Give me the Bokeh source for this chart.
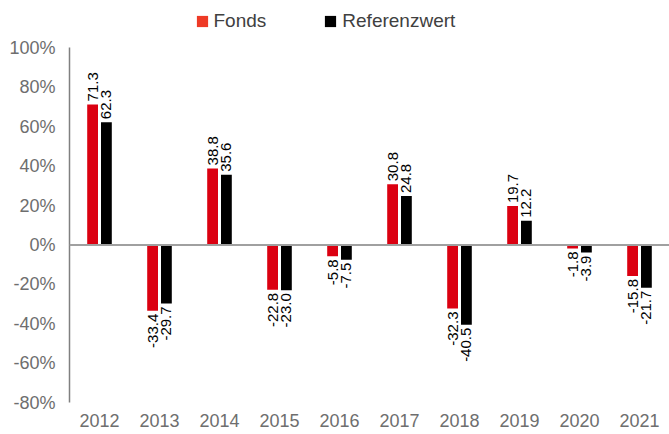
from bokeh.plotting import figure
from bokeh.models import (ColumnDataSource, FactorRange, Range1d, FixedTicker,
                          CustomJSTickFormatter, Span, Legend, LegendItem)
from bokeh.transform import dodge
from bokeh.core.properties import value
from bokeh.embed import file_html
from bokeh.resources import INLINE

years = ["2012", "2013", "2014", "2015", "2016", "2017", "2018", "2019", "2020", "2021"]
fonds = [71.3, -33.4, 38.8, -22.8, -5.8, 30.8, -32.3, 19.7, -1.8, -15.8]
referenz = [62.3, -29.7, 35.6, -23.0, -7.5, 24.8, -40.5, 12.2, -3.9, -21.7]
y_ticks = [-80, -60, -40, -20, 0, 20, 40, 60, 80, 100]

RED = "#DB0011"
BLACK = "#000000"
FONT = "Liberation Sans"

def sub(vals, positive):
    keep = [(y, v) for y, v in zip(years, vals) if (v >= 0) == positive]
    return ColumnDataSource(dict(years=[k[0] for k in keep],
                                 val=[k[1] for k in keep],
                                 lbl=["%.1f" % k[1] for k in keep]))

src = ColumnDataSource(dict(years=years, fonds=fonds, referenz=referenz))

# extra headroom above 100% holds the legend
p = figure(width=669, height=434, output_backend="svg", toolbar_location=None,
           x_range=FactorRange(factors=years, range_padding=0),
           y_range=Range1d(-80, 120),
           min_border_left=69, min_border_right=0, min_border_top=8,
           min_border_bottom=32)
p.outline_line_color = None
p.xgrid.grid_line_color = None
p.ygrid.grid_line_color = None

off = 0.115
w = 0.18
p.vbar(x=dodge("years", -off, range=p.x_range), top="fonds", bottom=0,
       width=w, source=src, fill_color=RED, line_color=None)
p.vbar(x=dodge("years", off, range=p.x_range), top="referenz", bottom=0,
       width=w, source=src, fill_color=BLACK, line_color=None)

p.add_layout(Span(location=0, dimension="width", line_color="#A0A0A0", line_width=2))

def labels(source, dx, align, yoff):
    p.text(x=dodge("years", dx, range=p.x_range), y="val", text="lbl",
           source=source, angle=1.5708, text_font=value(FONT),
           text_font_size="15px", text_color="#000000",
           text_baseline="middle", text_align=align, y_offset=yoff)

labels(sub(fonds, True), -off, "left", -3)
labels(sub(fonds, False), -off, "right", 3)
labels(sub(referenz, True), off, "left", -3)
labels(sub(referenz, False), off, "right", 3)

# y axis
ya = p.yaxis[0]
ya.ticker = FixedTicker(ticks=y_ticks)
ya.bounds = (y_ticks[0], y_ticks[-1])
ya.formatter = CustomJSTickFormatter(code="return tick.toFixed(0) + '%';")
ya.axis_line_color = "#808080"
ya.axis_line_width = 1.5
ya.major_tick_line_color = None
ya.minor_tick_line_color = None
ya.major_tick_out = 0
ya.major_tick_in = 0
ya.major_label_standoff = 14
ya.major_label_text_font = FONT
ya.major_label_text_font_size = "18px"
ya.major_label_text_color = "#6E6E6E"

# x axis
xa = p.xaxis[0]
xa.axis_line_color = None
xa.major_tick_line_color = None
xa.minor_tick_line_color = None
xa.major_tick_out = 0
xa.major_tick_in = 0
xa.major_label_standoff = 11
xa.major_label_text_font = FONT
xa.major_label_text_font_size = "18px"
xa.major_label_text_color = "#6E6E6E"

# legend-only renderers: zero-height boxes that draw nothing on the chart
d1 = p.vbar(x=[years[0]], top=[0], bottom=[0], width=0.1,
            fill_color="#EE3A26", line_color=None)
d2 = p.vbar(x=[years[0]], top=[0], bottom=[0], width=0.1,
            fill_color=BLACK, line_color=None)
legend = Legend(items=[LegendItem(label="Fonds", renderers=[d1]),
                       LegendItem(label="Referenzwert", renderers=[d2])],
                orientation="horizontal", location=(125.5, 370),
                glyph_width=14, glyph_height=14, label_standoff=5, spacing=57,
                padding=0, border_line_color=None,
                background_fill_alpha=0,
                label_text_font=FONT, label_text_font_size="19px",
                label_text_color="#404040")
p.add_layout(legend, "center")

open("out.html", "w").write(file_html(p, INLINE))
